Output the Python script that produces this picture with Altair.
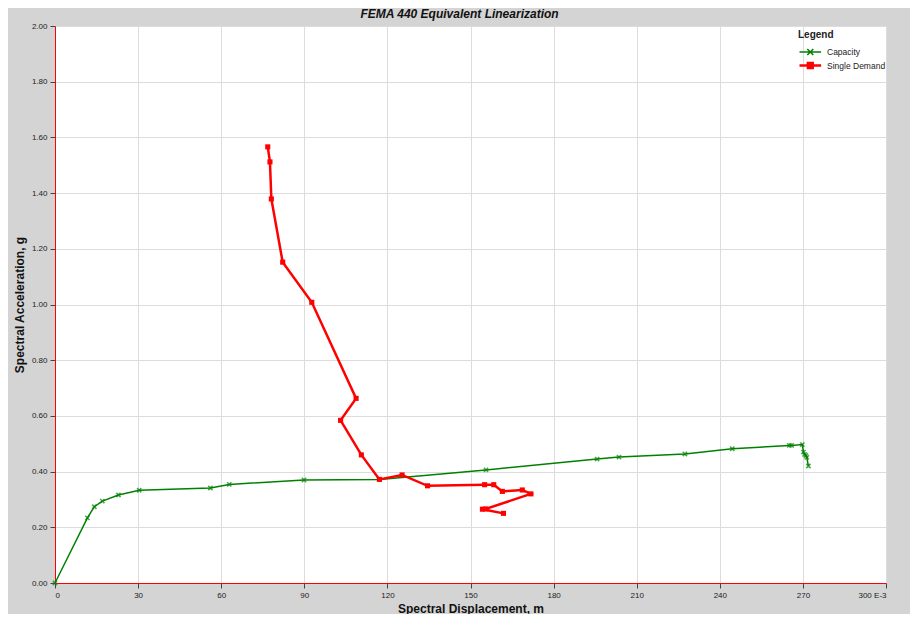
import altair as alt
import pandas as pd

# Capacity curve (spectral displacement in E-3 m, spectral acceleration in g)
cap_x = [0, 11.7, 14.2, 17.1, 22.9, 30.4, 56.1, 62.9, 89.9, 117.2, 155.6, 195.7,
         203.6, 227.4, 244.5, 265.1, 265.9, 269.8, 270.2, 270.6, 271.1, 271.4, 272.0]
cap_y = [0, 0.234, 0.274, 0.294, 0.316, 0.333, 0.341, 0.354, 0.370, 0.372, 0.406, 0.445,
         0.452, 0.463, 0.482, 0.494, 0.494, 0.497, 0.470, 0.462, 0.458, 0.451, 0.420]

# Single demand curve
dem_x = [76.8, 77.6, 78.1, 82.2, 92.7, 108.7, 103.1, 110.6, 117.1, 125.3, 134.5,
         155.1, 158.4, 161.5, 168.7, 171.8, 155.5, 154.3, 161.9]
dem_y = [1.566, 1.512, 1.379, 1.152, 1.008, 0.663, 0.584, 0.460, 0.372, 0.388, 0.349,
         0.353, 0.353, 0.329, 0.334, 0.320, 0.266, 0.265, 0.250]

series_names = ["Capacity", "Single Demand"]
series_colors = ["#008000", "#ff0000"]

x_ticks = [0, 30, 60, 90, 120, 150, 180, 210, 240, 270, 300]
y_ticks = [0.0, 0.2, 0.4, 0.6, 0.8, 1.0, 1.2, 1.4, 1.6, 1.8, 2.0]

rows = []
for i, (x, y) in enumerate(zip(cap_x, cap_y)):
    rows.append({"series": series_names[0], "sd": x, "sa": y, "order": i})
for i, (x, y) in enumerate(zip(dem_x, dem_y)):
    rows.append({"series": series_names[1], "sd": x, "sa": y, "order": i})
df = pd.DataFrame(rows)

FONT = "Liberation Sans"
NARROW = "Liberation Sans Narrow, Liberation Sans"

xenc = alt.X("sd:Q", scale=alt.Scale(domain=[0, 300], nice=False),
             axis=alt.Axis(values=x_ticks, title="Spectral Displacement, m",
                           labelExpr="datum.value == 300 ? '300 E-3' : datum.label",
                           format="d"))
yenc = alt.Y("sa:Q", scale=alt.Scale(domain=[0, 2], nice=False),
             axis=alt.Axis(values=y_ticks, title="Spectral Acceleration, g", format=".2f"))
cscale = alt.Scale(domain=series_names, range=series_colors)

base = alt.Chart(df)

# legend glyphs: line segment with the series marker in its middle
x_path = "M-1,0H2.6M0.3,-0.5L1.3,0.5M0.3,0.5L1.3,-0.5"
sq_path = "M-1,0H2.6M0.4,-0.4H1.2V0.4H0.4Z"

legend_def = alt.Legend(title="Legend", orient="none", legendX=743, legendY=4,
                        symbolOpacity=1, symbolSize=144, symbolStrokeWidth=2,
                        titleFont=FONT, titleFontSize=10, titleFontWeight="bold",
                        titleColor="#222222", titlePadding=5,
                        labelFont=FONT, labelFontSize=8.5, labelColor="#222222",
                        labelOffset=14, rowPadding=0)

legend_layer = base.mark_point(opacity=0, filled=True, strokeWidth=2).encode(
    x=xenc, y=yenc,
    color=alt.Color("series:N", scale=cscale, legend=legend_def),
    shape=alt.Shape("series:N", scale=alt.Scale(domain=series_names, range=[x_path, sq_path]),
                    legend=legend_def),
)

lines = base.mark_line().encode(
    x="sd:Q", y="sa:Q",
    color=alt.Color("series:N", scale=cscale),
    order="order:Q",
    strokeWidth=alt.StrokeWidth("series:N", scale=alt.Scale(domain=series_names, range=[1.5, 2.5]), legend=None),
)

cap_pts = base.transform_filter(alt.datum.series == "Capacity").mark_point(
    shape="M-1,-1L1,1M-1,1L1,-1", size=18, filled=False, strokeWidth=1.6, color="#008000"
).encode(x="sd:Q", y="sa:Q")

dem_pts = base.transform_filter(alt.datum.series == "Single Demand").mark_square(
    size=26, color="#ff0000", opacity=1
).encode(x="sd:Q", y="sa:Q")

chart = alt.layer(legend_layer, lines, cap_pts, dem_pts).properties(
    width=831, height=557,
    title=alt.Title("FEMA 440 Equivalent Linearization", font=FONT, fontSize=12,
                    fontStyle="italic", fontWeight="bold", color="#111111",
                    anchor="middle", dx=-11, dy=6, offset=7),
    autosize=alt.AutoSizeParams(type="none"),
    padding={"left": 47, "top": 18, "right": 24, "bottom": 31},
    background="#d4d4d4",
).configure_view(fill="white", stroke=None).configure_axis(
    domainColor="#ff0000", domainWidth=1,
    gridColor="#dcdcdc", gridWidth=1,
    tickColor="#444444", tickSize=5,
    labelFont=NARROW, labelFontSize=8, labelColor="#222222", labelPadding=3,
    titleFont=FONT, titleFontSize=12, titleFontWeight="bold", titleColor="#111111",
).configure_axisY(titlePadding=5).configure_axisX(titlePadding=4)

chart.save("out.html", embed_options={"renderer": "svg", "actions": False})
